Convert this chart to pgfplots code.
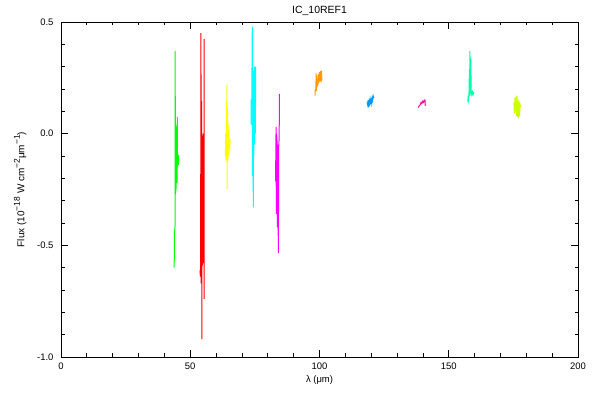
\documentclass[border=0pt]{standalone}
\usepackage{fontspec}
\setmainfont{Liberation Sans}
\usepackage{pgfplots}
\pgfplotsset{compat=1.18}
\definecolor{cgreen}{HTML}{00FF00}
\definecolor{cred}{HTML}{FF0000}
\definecolor{cyellow}{HTML}{FFFF00}
\definecolor{ccyan}{HTML}{00FFFF}
\definecolor{cmag}{HTML}{FF00FF}
\definecolor{corange}{HTML}{FF9900}
\definecolor{cblue}{HTML}{0099FF}
\definecolor{cpink}{HTML}{FF0099}
\definecolor{cteal}{HTML}{00FFAA}
\definecolor{cyg}{HTML}{CCFF00}
\newcommand{\supx}[1]{\raisebox{0.45em}{\fontsize{8.5}{9}\selectfont #1}}
\begin{document}
\begin{tikzpicture}
\path[use as bounding box] (0,0) rectangle (600bp,400bp);
\begin{axis}[
  at={(61bp,43bp)}, anchor=south west,
  scale only axis, width=517bp, height=335bp,
  xmin=0, xmax=200, ymin=-1.0, ymax=0.5,
  xtick={0,50,100,150,200}, minor x tick num=4,
  ytick={-1.0,-0.5,0.0,0.5}, minor y tick num=4,
  tick align=inside,
  major tick length=7bp, minor tick length=3.5bp,
  axis line style={line width=0.8bp},
  every tick/.style={black, line width=0.8bp},
  font=\fontsize{9.5}{10}\selectfont,
  /pgf/number format/assume math mode=true,
  yticklabel style={xshift=-4bp, /pgf/number format/.cd, fixed, fixed zerofill, precision=1},
  xticklabel style={yshift=-2bp, /pgf/number format/.cd, fixed, precision=0},
  title={IC\_10REF1},
  title style={font=\fontsize{10.5}{11}\selectfont, yshift=-3bp},
  xlabel={λ (μm)},
  ylabel={Flux (10\supx{−18} W cm\supx{−2}μm\supx{−1})},
  ylabel style={yshift=4bp, font=\fontsize{10}{11}\selectfont},
  every axis plot/.append style={line width=1bp, mark=none},
]
\addplot[cgreen] coordinates {(43.8,-0.60)(43.85,-0.45)(44.1,-0.42)(44.15,0.37)(44.3,-0.27)(44.4,0.04)(44.5,-0.25)(44.6,0.03)(44.7,-0.2)(44.8,0.02)(44.9,-0.22)(45.0,0.075)(45.05,-0.15)(45.2,-0.1)(45.4,-0.14)(45.45,-0.095)(45.5,-0.12)};
\addplot[cred] coordinates {(53.8,-0.61)(53.9,-0.64)(54.0,-0.62)(54.15,0.45)(54.2,-0.67)(54.4,0.146)(54.5,-0.92)(54.6,0.0)(54.7,-0.59)(54.8,-0.02)(54.9,-0.55)(55.0,-0.01)(55.1,-0.58)(55.2,0.0)(55.3,-0.5)(55.35,0.424)(55.4,-0.74)};
\addplot[cyellow] coordinates {(63.6,-0.1)(63.7,0.0)(63.8,-0.12)(64.0,0.03)(64.2,0.22)(64.25,-0.25)(64.4,0.12)(64.5,-0.13)(64.6,0.05)(64.8,-0.10)(64.9,0.02)(65.0,-0.08)(65.2,-0.02)(65.3,-0.07)(65.4,-0.03)};
\addplot[ccyan] coordinates {(73.5,0.04)(73.6,0.155)(73.7,0.05)(73.8,0.15)(74.0,0.478)(74.05,-0.19)(74.2,0.1)(74.3,-0.1)(74.4,-0.33)(74.5,0.28)(74.6,-0.1)(74.8,0.3)(74.9,-0.05)(75.0,0.29)(75.2,0.0)(75.3,0.3)};
\addplot[cmag] coordinates {(82.8,-0.21)(83.0,-0.21)(83.2,0.03)(83.3,-0.36)(83.4,0.0)(83.6,-0.04)(83.7,-0.42)(83.8,-0.05)(84.0,-0.40)(84.1,-0.535)(84.2,-0.06)(84.4,-0.02)(84.5,0.178)};
\addplot[corange] coordinates {(98.3,0.17)(98.35,0.195)(98.6,0.2)(98.7,0.27)(98.8,0.19)(99.0,0.26)(99.1,0.21)(99.3,0.24)(99.5,0.22)(99.6,0.267)(99.8,0.23)(100.0,0.275)(100.2,0.235)(100.4,0.28)(100.6,0.23)(100.8,0.282)(100.9,0.24)};
\addplot[cblue] coordinates {(118.4,0.14)(118.6,0.13)(118.8,0.15)(119.0,0.118)(119.2,0.145)(119.4,0.135)(119.6,0.155)(119.8,0.14)(120.0,0.15)(120.2,0.135)(120.4,0.16)(120.6,0.15)(120.8,0.168)(121.0,0.16)};
\addplot[cpink] coordinates {(138.2,0.117)(138.6,0.125)(139.0,0.13)(139.3,0.14)(139.6,0.135)(139.9,0.145)(140.2,0.14)(140.5,0.15)(140.8,0.151)(140.9,0.13)(141.0,0.125)};
\addplot[cteal] coordinates {(157.4,0.14)(157.5,0.17)(157.6,0.15)(157.8,0.165)(158.0,0.29)(158.1,0.17)(158.2,0.37)(158.3,0.17)(158.5,0.34)(158.7,0.19)(158.9,0.175)(159.2,0.187)(159.4,0.175)(159.8,0.185)};
\addplot[cyg] coordinates {(175.2,0.14)(175.4,0.09)(175.6,0.16)(175.8,0.1)(176.0,0.165)(176.2,0.08)(176.4,0.17)(176.6,0.075)(176.8,0.15)(177.0,0.07)(177.2,0.14)(177.4,0.08)(177.6,0.13)(177.8,0.12)};
\end{axis}
\end{tikzpicture}
\end{document}
